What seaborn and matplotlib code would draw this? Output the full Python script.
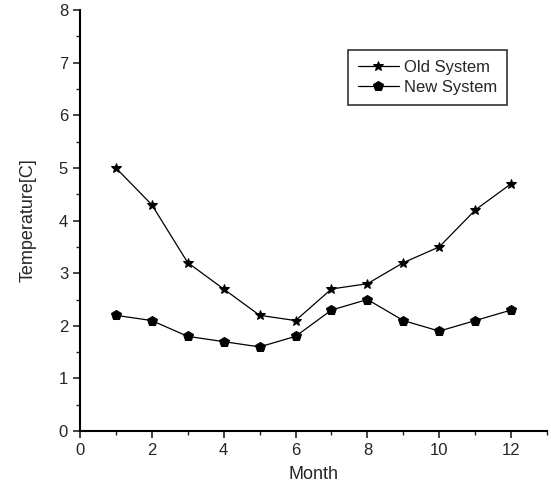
import pandas as pd
import matplotlib.pyplot as plt
import seaborn as sns
from matplotlib.ticker import MultipleLocator

sns.set_style("ticks")
plt.rcParams['font.family'] = ['Liberation Sans', 'DejaVu Sans']

# Datos
months = [1, 2, 3, 4, 5, 6, 7, 8, 9, 10, 11, 12]
old_system = [5.0, 4.3, 3.2, 2.7, 2.2, 2.1, 2.7, 2.8, 3.2, 3.5, 4.2, 4.7]
new_system = [2.2, 2.1, 1.8, 1.7, 1.6, 1.8, 2.3, 2.5, 2.1, 1.9, 2.1, 2.3]

df = pd.DataFrame({
    'Month': months * 2,
    'Temperature': old_system + new_system,
    'System': ['Old System'] * 12 + ['New System'] * 12,
})

fig = plt.figure(figsize=(5.51, 4.95), dpi=100)
ax = fig.add_axes([0.145, 0.129, 0.848, 0.851])

sns.lineplot(data=df, x='Month', y='Temperature', hue='System', style='System',
             markers={'Old System': '*', 'New System': 'p'}, dashes=False,
             palette={'Old System': 'black', 'New System': 'black'},
             markersize=7, linewidth=0.9, markeredgecolor='black', ax=ax)

ax.set_xlim(0, 13)
ax.set_ylim(0, 8)
ax.xaxis.set_major_locator(MultipleLocator(2))
ax.xaxis.set_minor_locator(MultipleLocator(1))
ax.yaxis.set_major_locator(MultipleLocator(1))
ax.yaxis.set_minor_locator(MultipleLocator(0.5))
ax.tick_params(which='major', length=5, width=1.2, direction='out', labelsize=12)
ax.tick_params(which='minor', length=3, width=1, direction='out')
for s in ['top', 'right']:
    ax.spines[s].set_visible(False)
for s in ['left', 'bottom']:
    ax.spines[s].set_linewidth(1.5)
    ax.spines[s].set_color('black')

ax.set_xlabel('Month', fontsize=13, labelpad=6)
ax.set_ylabel('Temperature[C]', fontsize=13, labelpad=16)

leg = ax.legend(title=None, loc='upper right', bbox_to_anchor=(0.915, 0.905),
                fontsize=12, frameon=True, fancybox=False, edgecolor='black',
                handlelength=2.5, handletextpad=0.3, borderpad=0.6,
                labelspacing=0.3, borderaxespad=0)
leg.get_frame().set_linewidth(1.2)

plt.savefig('out.png', dpi=100)
plt.close()
